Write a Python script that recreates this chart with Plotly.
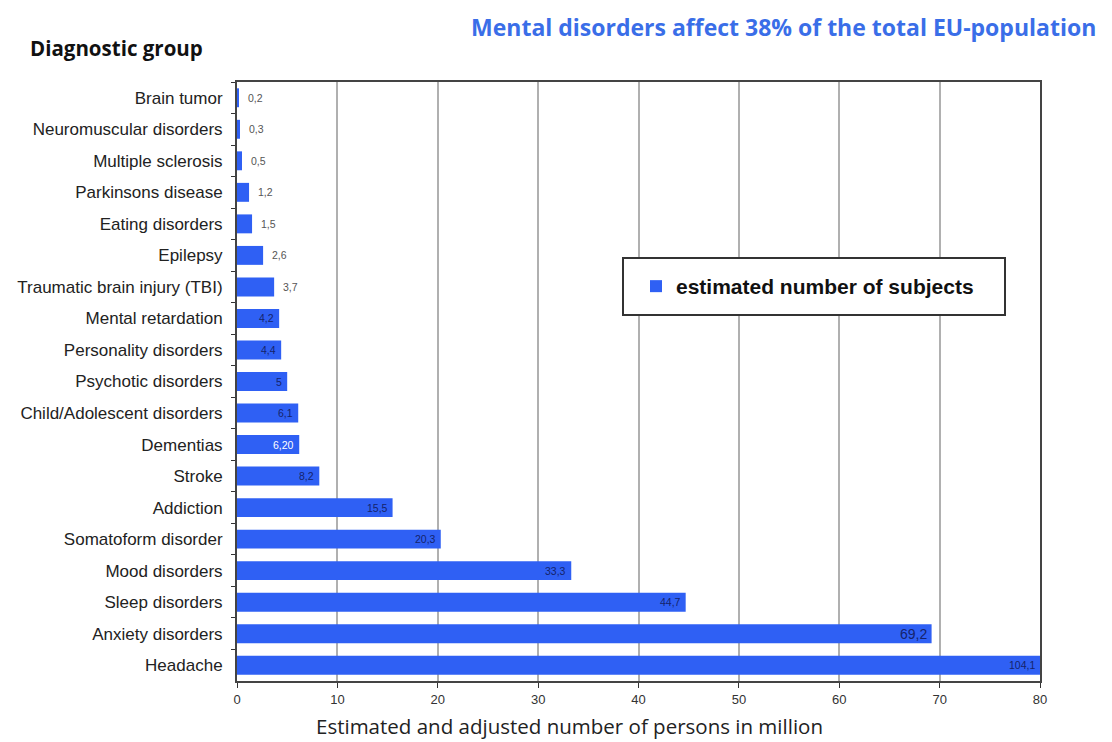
import plotly.graph_objects as go

categories = ["Brain tumor", "Neuromuscular disorders", "Multiple sclerosis", "Parkinsons disease",
              "Eating disorders", "Epilepsy", "Traumatic brain injury (TBI)", "Mental retardation",
              "Personality disorders", "Psychotic disorders", "Child/Adolescent disorders", "Dementias",
              "Stroke", "Addiction", "Somatoform disorder", "Mood disorders", "Sleep disorders",
              "Anxiety disorders", "Headache"]
values = [0.2, 0.3, 0.5, 1.2, 1.5, 2.6, 3.7, 4.2, 4.4, 5.0, 6.1, 6.2, 8.2, 15.5, 20.3, 33.3, 44.7, 69.2, 104.1]
value_labels = ["0,2", "0,3", "0,5", "1,2", "1,5", "2,6", "3,7", "4,2", "4,4", "5", "6,1", "6,20",
                "8,2", "15,5", "20,3", "33,3", "44,7", "69,2", "104,1"]
x_ticks = [0, 10, 20, 30, 40, 50, 60, 70, 80]
x_max = 80

W, H = 1112, 742
ml, mr, mt, mb = 237, 72, 82, 61
pw, ph = W - ml - mr, H - mt - mb
def px(xp): return (xp - ml) / pw
def py(yp): return (H - mb - yp) / ph

bar_color = "#2f60f4"
fig = go.Figure()
fig.add_trace(go.Bar(
    y=categories, x=values, orientation="h",
    marker=dict(color=bar_color, line=dict(width=0)),
    width=0.6,
    name="<b>estimated number of subjects</b>",
    showlegend=True,
))

annotations = []
for cat, v, lab in zip(categories, values, value_labels):
    shown = min(v, x_max)
    if v < 4:
        annotations.append(dict(x=shown, y=cat, xref="x", yref="y", text=lab, showarrow=False,
                                xanchor="left", xshift=7, font=dict(size=10.5, color="#555555", family="Liberation Sans")))
    else:
        color = "#ffffff" if lab == "6,20" else "#15236b"
        size = 14 if lab == "69,2" else 10.5
        annotations.append(dict(x=shown, y=cat, xref="x", yref="y", text=lab, showarrow=False,
                                xanchor="right", xshift=-3, font=dict(size=size, color=color, family="Liberation Sans")))

annotations.append(dict(x=px(28), y=py(48), xref="paper", yref="paper", text="<b>Diagnostic group</b>",
                        showarrow=False, xanchor="left", yanchor="middle",
                        font=dict(size=20.5, color="#111111", family="Open Sans")))
annotations.append(dict(x=px(1098), y=py(27), xref="paper", yref="paper",
                        text="<b>Mental disorders affect 38% of the total EU-population</b>",
                        showarrow=False, xanchor="right", yanchor="middle",
                        font=dict(size=23, color="#3a6ee8", family="Open Sans")))
annotations.append(dict(x=px(569), y=py(741), xref="paper", yref="paper",
                        text="Estimated and adjusted number of persons in million",
                        showarrow=False, xanchor="center", yanchor="bottom", borderpad=0,
                        font=dict(size=20.5, color="#222222", family="Open Sans")))

fig.update_layout(
    width=W, height=H,
    margin=dict(l=ml, r=mr, t=mt, b=mb),
    paper_bgcolor="white", plot_bgcolor="white",
    annotations=annotations,
    shapes=[dict(type="rect", xref="paper", yref="paper",
                 x0=px(623), x1=px(1005), y0=py(315), y1=py(258),
                 line=dict(color="#333333", width=2), fillcolor="white", layer="above")],
    font=dict(family="Liberation Sans", color="#222222"),
    xaxis=dict(range=[0, x_max], tickvals=x_ticks, ticks="outside", ticklen=5, tickcolor="#333333",
               showgrid=True, gridcolor="#b0b0b0", gridwidth=1.5, zeroline=False,
               showline=True, linecolor="#444444", linewidth=2, mirror=True,
               tickfont=dict(size=13, color="#333333")),
    yaxis=dict(categoryorder="array", categoryarray=categories, autorange="reversed",
               ticks="outside", ticklen=4, tickcolor="#333333", tickson="boundaries",
               showline=True, linecolor="#444444", linewidth=2, mirror=True, showgrid=False,
               ticklabelstandoff=9,
               tickfont=dict(size=17, color="#222222")),
    legend=dict(x=px(636), y=py(286.5), xanchor="left", yanchor="middle", xref="paper", yref="paper",
                bgcolor="rgba(0,0,0,0)", borderwidth=0,
                font=dict(size=21, color="#111111", family="Liberation Sans")),
)
fig.write_html("out.html")
